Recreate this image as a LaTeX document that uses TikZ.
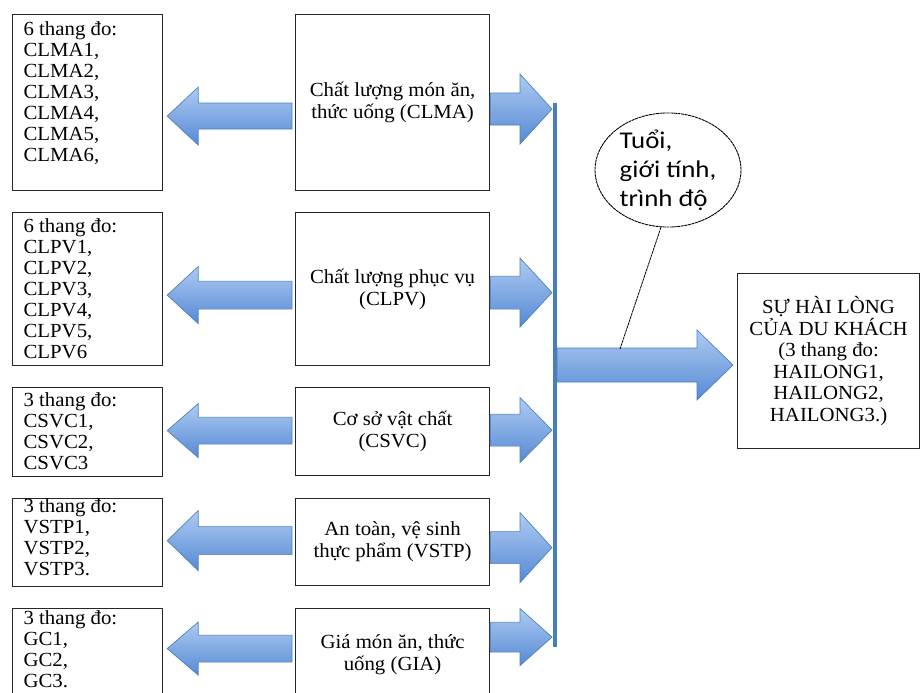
\documentclass[tikz,border=0pt]{standalone}
\usepackage{fontspec}
\setmainfont{Liberation Serif}[FakeStretch=1.04]
\newfontfamily\ellfont{Carlito}[FakeStretch=1.12]
\usetikzlibrary{calc,shapes.geometric}

\definecolor{arrtop}{HTML}{AECBF2}
\definecolor{arrbot}{HTML}{5589D4}
\definecolor{arrline}{HTML}{4F81BD}
\definecolor{hubline}{HTML}{4A7EBB}
\definecolor{boxline}{HTML}{262626}

\tikzset{
  blockarrow/.style={top color=arrtop, bottom color=arrbot, draw=arrline, line width=0.7pt, line join=miter},
  lbox/.style={draw=boxline, line width=1.2pt, rectangle, inner sep=0pt, anchor=north west},
  cbox/.style={draw=boxline, line width=1.2pt, rectangle, inner sep=0pt, anchor=north west,
    minimum width=194pt, align=center, font=\fontsize{20}{22}\selectfont},
  rbox/.style={draw=boxline, line width=1.2pt, rectangle, inner sep=0pt, anchor=north west,
    minimum width=182pt, minimum height=175pt, align=center, font=\fontsize{20}{21.5}\selectfont},
  ellnode/.style={draw=black, line width=0.9pt, dash pattern=on 3pt off 0.6pt, ellipse,
    minimum width=146pt, minimum height=114pt, inner sep=0pt, align=left,
    font=\ellfont\fontsize{24}{29}\selectfont},
  hub/.style={draw=hubline, line width=3.5pt},
  callout/.style={draw=black, line width=0.8pt, dash pattern=on 3pt off 0.6pt},
}

% #1 height, #2 top offset, #3 text
\newcommand\lcontent[3]{\parbox[c][#1][t]{150pt}{\fontsize{20}{21}\selectfont\raggedright\leftskip=11pt\vspace*{#2}#3}}

% horizontal block arrow
% #1 tail point, #2 tip point (x only), #3 y offset from tail, #4 tail x gap, #5 tip x gap,
% #6 shaft half width, #7 head half width, #8 signed head length
\newcommand\harrow[8]{%
  \path[blockarrow] let \p1=#1, \p2=#2 in
    ({\x1+#4}, {\y1+#3+#6}) -- ({\x2+#5-(#8)}, {\y1+#3+#6}) -- ({\x2+#5-(#8)}, {\y1+#3+#7})
    -- ({\x2+#5}, {\y1+#3}) -- ({\x2+#5-(#8)}, {\y1+#3-#7}) -- ({\x2+#5-(#8)}, {\y1+#3-#6})
    -- ({\x1+#4}, {\y1+#3-#6}) -- cycle;}

\begin{document}
\begin{tikzpicture}[x=1pt, y=-1pt]
\fill[white] (0,0) rectangle (922,693);
\useasboundingbox (0,0) rectangle (922,693);

% left boxes
\node[lbox] (l1) at (12,14)  {\lcontent{176pt}{7.3pt}{6 thang đo:\\CLMA1,\\CLMA2,\\CLMA3,\\CLMA4,\\CLMA5,\\CLMA6,}};
\node[lbox] (l2) at (12,212) {\lcontent{153pt}{6.3pt}{6 thang đo:\\CLPV1,\\CLPV2,\\CLPV3,\\CLPV4,\\CLPV5,\\CLPV6}};
\node[lbox] (l3) at (12,387) {\lcontent{89pt}{5.3pt}{3 thang đo:\\CSVC1,\\CSVC2,\\CSVC3}};
\node[lbox] (l4) at (12,498) {\lcontent{88pt}{0pt}{3 thang đo:\\VSTP1,\\VSTP2,\\VSTP3.}};
\node[lbox] (l5) at (12,608) {\lcontent{95pt}{2pt}{3 thang đo:\\GC1,\\GC2,\\GC3.}};

% centre boxes
\node[cbox, minimum height=176pt] (c1) at (295,14)  {Chất lượng món ăn,\\thức uống (CLMA)};
\node[cbox, minimum height=153pt] (c2) at (295,212) {Chất lượng phục vụ\\(CLPV)};
\node[cbox, minimum height=88pt]  (c3) at (295,387) {Cơ sở vật chất\\(CSVC)};
\node[cbox, minimum height=87pt]  (c4) at (295,498) {An toàn, vệ sinh\\thực phẩm (VSTP)};
\node[cbox, minimum height=92pt]  (c5) at (295,608) {Giá món ăn, thức\\uống (GIA)};

% right box
\node[rbox] (r) at (737,273) {SỰ HÀI LÒNG\\CỦA DU KHÁCH\\(3 thang đo:\\HAILONG1,\\HAILONG2,\\HAILONG3.)};

% ellipse
\node[ellnode] (e) at (668,170) {Tuổi,\\giới tính,\\trình độ};

% hub line coordinates
\coordinate (vtop) at (555,103);
\coordinate (vbot) at (555,647);
\coordinate (hubpt) at (555,365);
\coordinate (lp) at (620,349);

% left-pointing arrows (centre box -> left box)
\harrow{(c1.west)}{(l1.east)}{-13.5pt}{-3pt}{4pt}{13pt}{29pt}{-31pt}
\harrow{(c2.west)}{(l2.east)}{-6pt}{-3pt}{4pt}{14pt}{28.5pt}{-31pt}
\harrow{(c3.west)}{(l3.east)}{1pt}{-3pt}{4pt}{13.5pt}{27pt}{-31pt}
\harrow{(c4.west)}{(l4.east)}{1.5pt}{-3pt}{4pt}{14pt}{30pt}{-31pt}
\harrow{(c5.west)}{(l5.east)}{6pt}{-3pt}{4pt}{13.5pt}{26.5pt}{-31pt}

% right-pointing arrows (centre box -> hub line)
\harrow{(c1.east)}{(vtop)}{-6.5pt}{0pt}{-3pt}{16pt}{35pt}{32pt}
\harrow{(c2.east)}{(vtop)}{-3.5pt}{0pt}{-3pt}{16.5pt}{34.5pt}{32pt}
\harrow{(c3.east)}{(vtop)}{1.5pt}{0pt}{-3pt}{16pt}{32.5pt}{32pt}
\harrow{(c4.east)}{(vtop)}{-5.5pt}{0pt}{-3pt}{16pt}{35pt}{32pt}
\harrow{(c5.east)}{(vtop)}{17.5pt}{0pt}{-3pt}{15pt}{28.5pt}{32pt}

% main arrow (hub -> result box)
\harrow{(hubpt)}{(r.west)}{0pt}{2pt}{-4pt}{17pt}{35pt}{36pt}

% hub line
\draw[hub] (vtop) -- (vbot);

% callout line
\draw[callout] (e.-97) -- (lp);
\end{tikzpicture}
\end{document}
